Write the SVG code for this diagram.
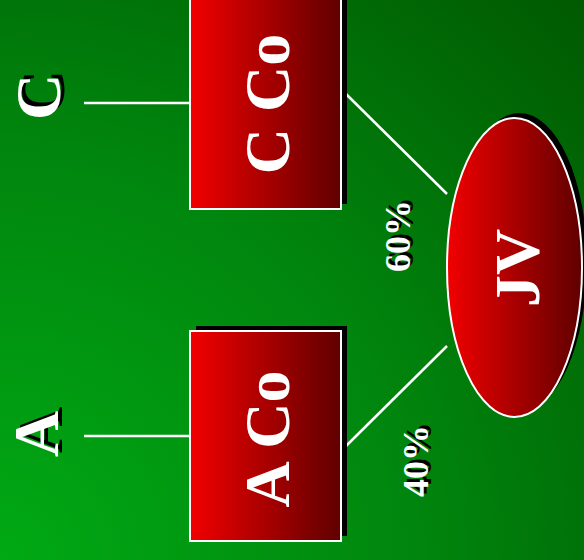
<svg xmlns="http://www.w3.org/2000/svg" width="584" height="560" viewBox="0 0 584 560">
<defs>
<radialGradient id="bg" gradientUnits="userSpaceOnUse" cx="0" cy="560" r="820">
<stop offset="0" stop-color="#00AA14"/>
<stop offset="0.5" stop-color="#00860E"/>
<stop offset="1" stop-color="#005800"/>
</radialGradient>
<linearGradient id="red" x1="0" y1="0" x2="1" y2="0">
<stop offset="0" stop-color="#F20000"/>
<stop offset="1" stop-color="#600000"/>
</linearGradient>
</defs>
<style>
.shape{fill:url(#red);stroke:#FFFFFF;stroke-width:2}
.shadow{fill:#000000}
.conn{stroke:#FFFFFF;stroke-width:2.5;fill:none}
.t{font-family:"Liberation Serif","Times New Roman",serif;font-weight:bold;text-anchor:middle;fill:#FFFFFF}
.ts{font-family:"Liberation Serif","Times New Roman",serif;font-weight:bold;text-anchor:middle;fill:#000000}
.big{font-size:64px}
.pct{font-size:36px}
</style>
<rect x="0" y="0" width="584" height="560" fill="url(#bg)"/>
<g id="connectors">
<line class="conn" x1="84" y1="103" x2="190" y2="103"/>
<line class="conn" x1="84" y1="436" x2="190" y2="436"/>
<line class="conn" x1="346" y1="94" x2="447" y2="194"/>
<line class="conn" x1="346" y1="446" x2="447" y2="346"/>
</g>
<g id="label-C">
<text class="ts big" transform="translate(64,93) rotate(-90)">C</text>
<text class="t big" transform="translate(60,97) rotate(-90)">C</text>
</g>
<g id="label-A">
<text class="ts big" transform="translate(62,430) rotate(-90)">A</text>
<text class="t big" transform="translate(58,434) rotate(-90)">A</text>
</g>
<g id="node-CCo">
<rect class="shadow" x="196" y="-6" width="151" height="210"/>
<rect class="shape" x="190" y="-1" width="151" height="210"/>
<text class="t big" transform="translate(289,104) rotate(-90)">C Co</text>
</g>
<g id="node-ACo">
<rect class="shadow" x="196" y="326" width="151" height="210"/>
<rect class="shape" x="190" y="331" width="151" height="210"/>
<text class="t big" transform="translate(289,439) rotate(-90)">A Co</text>
</g>
<g id="node-JV">
<ellipse class="shadow" cx="519.5" cy="262.5" rx="67.5" ry="149.5"/>
<ellipse class="shape" cx="514.5" cy="267.5" rx="67.5" ry="149.5"/>
<text class="t big" transform="translate(539,268) rotate(-90)">JV</text>
</g>
<g id="label-60">
<text class="ts pct" transform="translate(413,233) rotate(-90)">60%</text>
<text class="t pct" transform="translate(410,236) rotate(-90)">60%</text>
</g>
<g id="label-40">
<text class="ts pct" transform="translate(431,458) rotate(-90)">40%</text>
<text class="t pct" transform="translate(428,461) rotate(-90)">40%</text>
</g>
</svg>
